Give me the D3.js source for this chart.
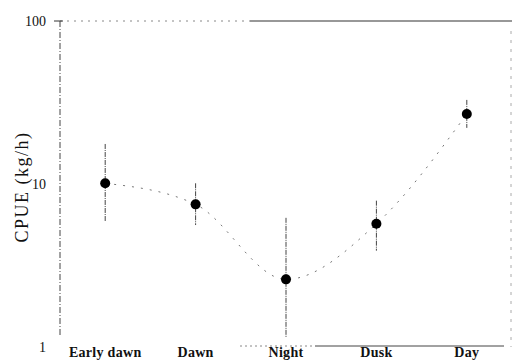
<!DOCTYPE html>
<html>
<head>
<meta charset="utf-8">
<script src="https://cdn.jsdelivr.net/npm/d3@7"></script>
<style>
  body { margin: 0; background: #fff; }
  svg { display: block; }
  text { font-family: "Liberation Serif", "Times New Roman", serif; fill: #111; }
</style>
</head>
<body>
<div id="vis"></div>
<script>
const FRAME_WIDTH = 513;
const FRAME_HEIGHT = 362;
const MARGINS = {left: 60, right: 1, top: 21, bottom: 15};

// data
const categories = ['Early dawn', 'Dawn', 'Night', 'Dusk', 'Day'];
const cpue = [10.1, 7.5, 2.6, 5.7, 26.9];
const errLow = [5.9, 5.6, 1.14, 3.9, 22.1];
const errHigh = [17.6, 10.1, 6.2, 7.9, 32.8];
const yTicks = [1, 10, 100];

const VIS_WIDTH = FRAME_WIDTH - MARGINS.left - MARGINS.right;
const VIS_HEIGHT = FRAME_HEIGHT - MARGINS.top - MARGINS.bottom;

const FRAME = d3.select('#vis')
  .append('svg')
    .attr('width', FRAME_WIDTH)
    .attr('height', FRAME_HEIGHT);

const X_SCALE = d3.scalePoint()
  .domain(categories)
  .range([MARGINS.left, MARGINS.left + VIS_WIDTH])
  .padding(0.5);

const Y_SCALE = d3.scaleLog()
  .domain([1, 100])
  .range([MARGINS.top + VIS_HEIGHT, MARGINS.top]);

const rows = categories.map((c, i) => ({cat: c, v: cpue[i], lo: errLow[i], hi: errHigh[i]}));

const x0 = MARGINS.left, x1 = MARGINS.left + VIS_WIDTH;
const yTop = Y_SCALE(100), yBot = Y_SCALE(1);

// frame lines (scanned look)
FRAME.append('line')
  .attr('x1', x0).attr('x2', x0).attr('y1', yTop).attr('y2', yBot - 10)
  .attr('stroke', '#444').attr('stroke-width', 1)
  .attr('stroke-dasharray', '6,2,1,2');
FRAME.append('line')
  .attr('x1', x0).attr('x2', 250).attr('y1', yTop).attr('y2', yTop)
  .attr('stroke', '#888').attr('stroke-dasharray', '2,5');
FRAME.append('line')
  .attr('x1', 250).attr('x2', x1).attr('y1', yTop).attr('y2', yTop)
  .attr('stroke', '#333').attr('stroke-width', 1.2);
FRAME.append('line')
  .attr('x1', x1 - 1).attr('x2', x1 - 1).attr('y1', yTop + 10).attr('y2', yBot)
  .attr('stroke', '#aaa').attr('stroke-dasharray', '3,6');
FRAME.append('line')
  .attr('x1', 240).attr('x2', 315).attr('y1', yBot - 1).attr('y2', yBot - 1)
  .attr('stroke', '#888').attr('stroke-dasharray', '2,3');
FRAME.append('line')
  .attr('x1', 315).attr('x2', x1 - 8).attr('y1', yBot - 1).attr('y2', yBot - 1)
  .attr('stroke', '#444').attr('stroke-width', 1);

// y axis tick labels
FRAME.selectAll('.ylab')
  .data(yTicks)
  .enter()
  .append('text')
    .attr('x', x0 - 14)
    .attr('y', (d) => Y_SCALE(d) + 5)
    .attr('text-anchor', 'end')
    .attr('font-size', '14px')
    .text((d) => d);

FRAME.append('line')
  .attr('x1', x0 - 6).attr('x2', x0 + 3).attr('y1', yTop).attr('y2', yTop)
  .attr('stroke', '#333');

// y axis title
FRAME.append('text')
  .attr('transform', 'translate(28,187) rotate(-90)')
  .attr('text-anchor', 'middle')
  .attr('font-size', '18px')
  .attr('letter-spacing', '1.5px')
  .text('CPUE (kg/h)');

// x labels
FRAME.selectAll('.xlab')
  .data(categories)
  .enter()
  .append('text')
    .attr('x', (d) => X_SCALE(d))
    .attr('y', 357)
    .attr('text-anchor', 'middle')
    .attr('font-size', '14px')
    .attr('font-weight', 'bold')
    .attr('letter-spacing', '0.3px')
    .text((d) => d);

// fitted curve
const line = d3.line()
  .x((d) => X_SCALE(d.cat))
  .y((d) => Y_SCALE(d.v))
  .curve(d3.curveMonotoneX);

FRAME.append('path')
  .datum(rows)
  .attr('d', line)
  .attr('fill', 'none')
  .attr('stroke', '#777')
  .attr('stroke-width', 1)
  .attr('stroke-dasharray', '2,7');

// error bars
FRAME.selectAll('.err')
  .data(rows)
  .enter()
  .append('line')
    .attr('x1', (d) => X_SCALE(d.cat))
    .attr('x2', (d) => X_SCALE(d.cat))
    .attr('y1', (d) => Y_SCALE(d.hi))
    .attr('y2', (d) => Y_SCALE(d.lo))
    .attr('stroke', '#444')
    .attr('stroke-width', 1)
    .attr('stroke-dasharray', '5,1,1,1');

// points
FRAME.selectAll('.point')
  .data(rows)
  .enter()
  .append('circle')
    .attr('cx', (d) => X_SCALE(d.cat))
    .attr('cy', (d) => Y_SCALE(d.v))
    .attr('r', 5)
    .attr('fill', '#000');
</script>
</body>
</html>
